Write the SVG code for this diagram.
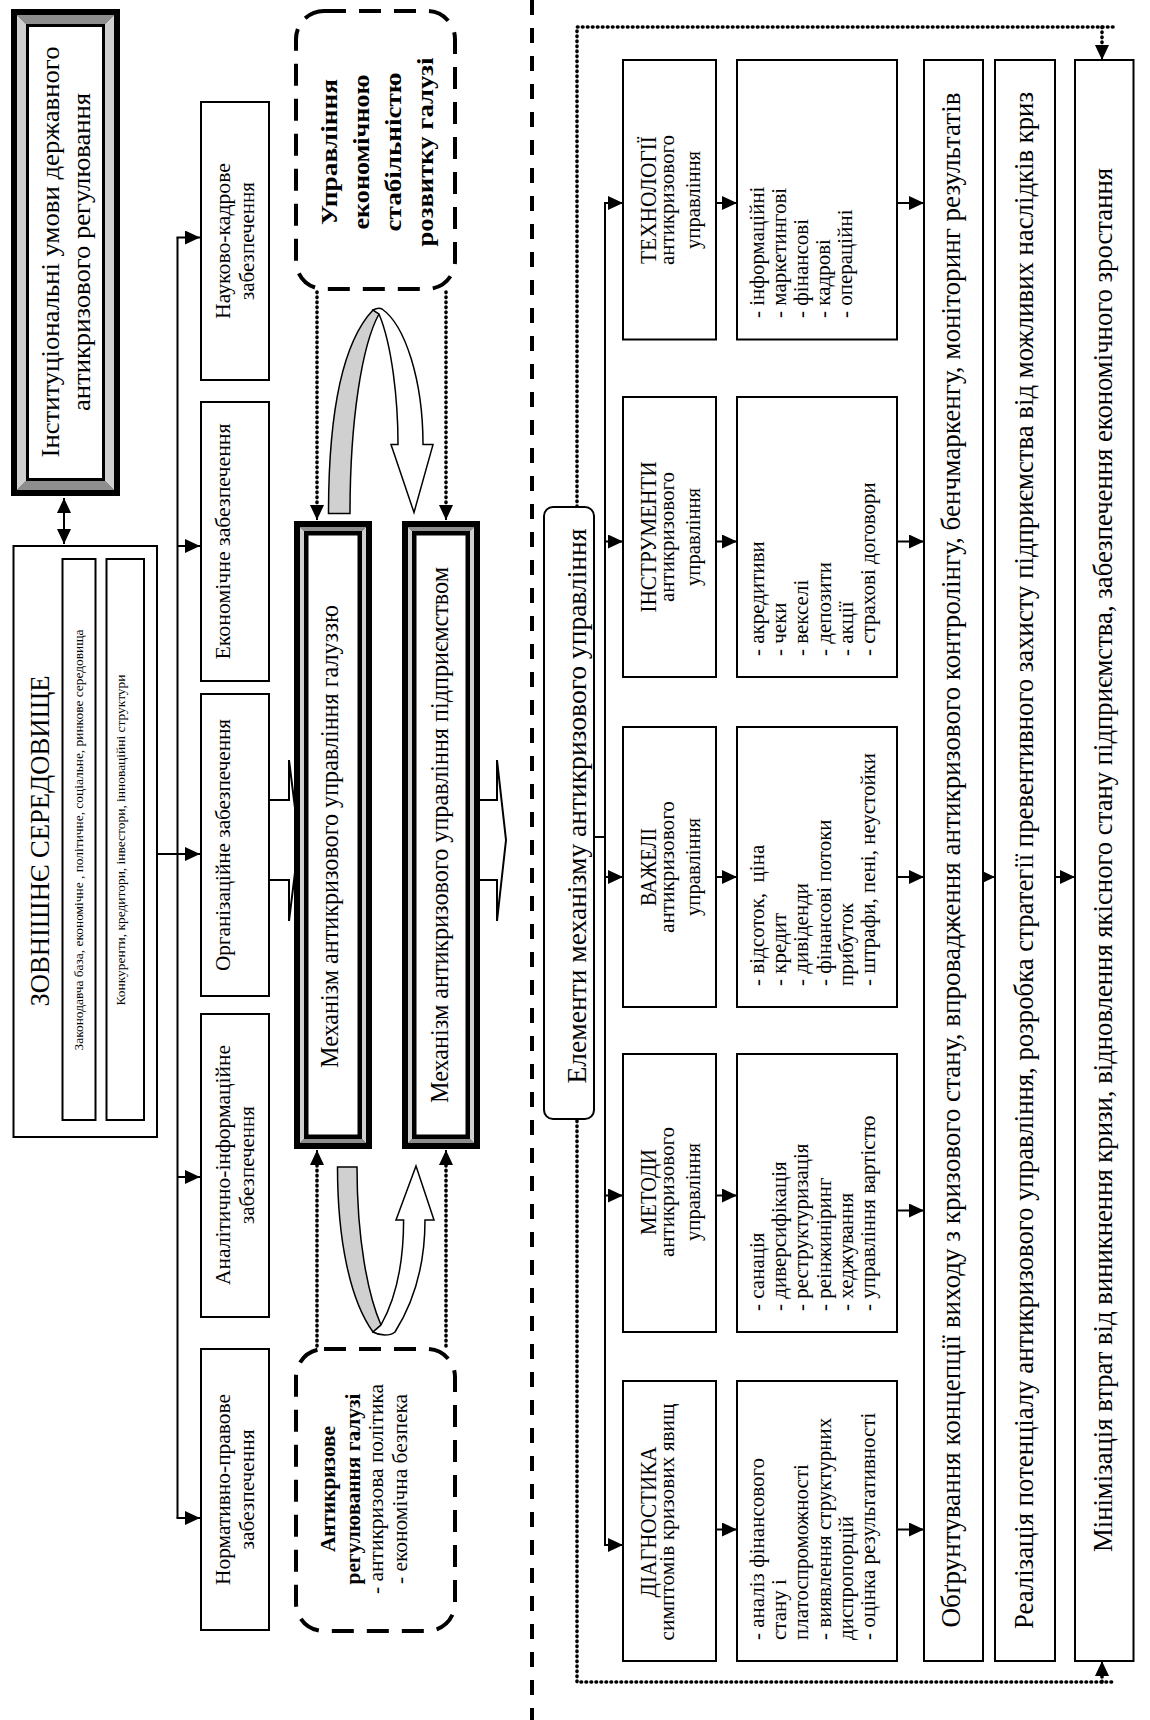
<svg xmlns="http://www.w3.org/2000/svg" width="1150" height="1720" viewBox="0 0 1150 1720">
<defs>
<style>
.t{font-family:"Liberation Serif","Times New Roman",serif;fill:#000}
.b{font-weight:bold}
.box{fill:#fff;stroke:#000;stroke-width:2}
.ln{stroke:#000;stroke-width:2;fill:none}
.dot{stroke:#000;stroke-width:3.6;stroke-dasharray:0.6 4.4;stroke-linecap:round;fill:none}
.dash{fill:#fff;stroke:#000;stroke-width:4;stroke-dasharray:22 13}
.bt{fill:#8e8e8e}
.bs{fill:#cfcfcf}
.gray{fill:#d0d0d0;stroke:#000;stroke-width:1.5}
.wh{fill:#fff;stroke:#000;stroke-width:1.5}
.li{font-size:21px}
</style>
<marker id="ah" markerUnits="userSpaceOnUse" markerWidth="15" markerHeight="14" refX="15" refY="7" orient="auto-start-reverse"><path d="M0,0 L15,7 L0,14 Z" fill="#000"/></marker>
<g id="mf">
<rect x="0" y="0" width="78" height="628" fill="#000"/>
<polygon class="bt" points="6,6 72,6 68,10 10,10"/>
<polygon class="bt" points="6,622 72,622 68,618 10,618"/>
<polygon class="bs" points="6,6 10,10 10,618 6,622"/>
<polygon class="bs" points="72,6 68,10 68,618 72,622"/>
<rect x="10" y="10" width="58" height="608" fill="#000"/>
<rect x="14.5" y="14.5" width="49" height="599" fill="#fff"/>
</g>
</defs>
<rect width="1150" height="1720" fill="#fff"/>

<g id="connectors">
<line class="ln" x1="64" y1="498" x2="64" y2="544" marker-start="url(#ah)" marker-end="url(#ah)"/>
<line class="ln" x1="157" y1="854" x2="200" y2="854" marker-end="url(#ah)"/>
<line class="ln" x1="177.5" y1="237.5" x2="177.5" y2="1518"/>
<line class="ln" x1="176.5" y1="237.5" x2="200" y2="237.5" marker-end="url(#ah)"/>
<line class="ln" x1="177.5" y1="546" x2="200" y2="546" marker-end="url(#ah)"/>
<line class="ln" x1="177.5" y1="1177" x2="200" y2="1177" marker-end="url(#ah)"/>
<line class="ln" x1="176.5" y1="1518" x2="200" y2="1518" marker-end="url(#ah)"/>
<polygon points="268,800 289,800 289,760 299,840 289,921 289,880 268,880" fill="#fff" stroke="#000" stroke-width="2"/>
<polygon points="478,800 497,800 497,760 506,840 497,921 497,880 478,880" fill="#fff" stroke="#000" stroke-width="2"/>
<path class="gray" d="M328.5,513.5 C328.5,420 340,345 373,310 L379,314 C362,345 350,420 350,513.5 Z"/>
<path class="wh" d="M373,310 C377,308 380,308 382,309 C405,325 423,380 423,444.6 L433,444.6 L414,512.5 L391,444.6 L398,444.6 C398,400 392,345 379,314 Z"/>
<path class="gray" d="M337.5,1167 C337.5,1240 350,1300 373,1332 L381,1325 C368,1295 357,1240 357,1167 Z"/>
<path class="wh" d="M373,1332 C380,1336 390,1336 395,1332 C412,1305 425,1270 425,1220 L434,1220 L416,1166 L396,1220 L403.6,1220 C403.6,1265 395,1300 381,1325 Z"/>
<line class="dot" x1="317" y1="292" x2="317" y2="508"/>
<line class="ln" x1="317" y1="506" x2="317" y2="520" marker-end="url(#ah)"/>
<line class="dot" x1="446" y1="292" x2="446" y2="508"/>
<line class="ln" x1="446" y1="506" x2="446" y2="520" marker-end="url(#ah)"/>
<line class="dot" x1="317" y1="1346" x2="317" y2="1162"/>
<line class="ln" x1="317" y1="1164" x2="317" y2="1150" marker-end="url(#ah)"/>
<line class="dot" x1="446" y1="1346" x2="446" y2="1162"/>
<line class="ln" x1="446" y1="1164" x2="446" y2="1150" marker-end="url(#ah)"/>
<line x1="532" y1="0" x2="532" y2="1720" stroke="#000" stroke-width="4" stroke-dasharray="15 13"/>
<path class="dot" d="M1113,27 H577 V1682 H1113"/>
<line class="dot" x1="1102" y1="27" x2="1102" y2="46"/>
<line class="ln" x1="1102" y1="45" x2="1102" y2="60" marker-end="url(#ah)"/>
<line class="dot" x1="1102" y1="1682" x2="1102" y2="1675"/>
<line class="ln" x1="1102" y1="1676" x2="1102" y2="1661" marker-end="url(#ah)"/>
<line class="ln" x1="594" y1="837" x2="605" y2="837"/>
<line class="ln" x1="605" y1="203" x2="605" y2="1545"/>
<line class="ln" x1="604" y1="203" x2="623" y2="203" marker-end="url(#ah)"/>
<line class="ln" x1="605" y1="541.5" x2="623" y2="541.5" marker-end="url(#ah)"/>
<line class="ln" x1="605" y1="877" x2="623" y2="877" marker-end="url(#ah)"/>
<line class="ln" x1="605" y1="1195.5" x2="623" y2="1195.5" marker-end="url(#ah)"/>
<line class="ln" x1="604" y1="1545" x2="623" y2="1545" marker-end="url(#ah)"/>
<line class="ln" x1="716" y1="203" x2="737" y2="203" marker-end="url(#ah)"/>
<line class="ln" x1="716" y1="541.5" x2="737" y2="541.5" marker-end="url(#ah)"/>
<line class="ln" x1="716" y1="877" x2="737" y2="877" marker-end="url(#ah)"/>
<line class="ln" x1="716" y1="1195.5" x2="737" y2="1195.5" marker-end="url(#ah)"/>
<line class="ln" x1="716" y1="1529.5" x2="737" y2="1529.5" marker-end="url(#ah)"/>
<line class="ln" x1="897" y1="203" x2="924" y2="203" marker-end="url(#ah)"/>
<line class="ln" x1="897" y1="541.5" x2="924" y2="541.5" marker-end="url(#ah)"/>
<line class="ln" x1="897" y1="877" x2="924" y2="877" marker-end="url(#ah)"/>
<line class="ln" x1="897" y1="1210.5" x2="924" y2="1210.5" marker-end="url(#ah)"/>
<line class="ln" x1="897" y1="1529.5" x2="924" y2="1529.5" marker-end="url(#ah)"/>
<line class="ln" x1="980" y1="877" x2="995" y2="877" marker-end="url(#ah)"/>
<line class="ln" x1="1055" y1="877" x2="1075" y2="877" marker-end="url(#ah)"/>
</g>

<g id="institutional">
<rect x="11" y="9" width="109" height="487" fill="#000"/>
<polygon class="bt" points="17,15 114,15 105,24 26,24"/>
<polygon class="bt" points="17,490 114,490 105,481 26,481"/>
<polygon class="bs" points="17,15 26,24 26,481 17,490"/>
<polygon class="bs" points="114,15 105,24 105,481 114,490"/>
<rect x="27.5" y="25.5" width="76" height="454" fill="#fff" stroke="#000" stroke-width="3"/>
<text class="t" font-size="26" text-anchor="middle" transform="translate(59,252) rotate(-90)" textLength="411" lengthAdjust="spacingAndGlyphs">Інституціональні умови державного</text>
<text class="t" font-size="26" text-anchor="middle" transform="translate(90,252) rotate(-90)" textLength="318" lengthAdjust="spacingAndGlyphs">антикризового регулювання</text>
</g>

<g id="external">
<rect class="box" x="13.5" y="546" width="143.5" height="591"/>
<text class="t" font-size="27" text-anchor="middle" transform="translate(49,841) rotate(-90)" textLength="331" lengthAdjust="spacingAndGlyphs">ЗОВНІШНЄ СЕРЕДОВИЩЕ</text>
<rect class="box" x="62.5" y="559" width="33" height="561"/>
<text class="t" font-size="12.5" text-anchor="middle" transform="translate(82.5,840) rotate(-90)" textLength="421" lengthAdjust="spacingAndGlyphs">Законодавча база, економічне , політичне, соціальне, ринкове середовища</text>
<rect class="box" x="106.5" y="559" width="37.5" height="561"/>
<text class="t" font-size="12.5" text-anchor="middle" transform="translate(125,840) rotate(-90)" textLength="331" lengthAdjust="spacingAndGlyphs">Конкуренти, кредитори, інвестори, інноваційні структури</text>
</g>

<g id="sup-science">
<rect class="box" x="201" y="102" width="68" height="278"/>
<text class="t" font-size="20" text-anchor="middle" transform="translate(230,241) rotate(-90)" textLength="156" lengthAdjust="spacingAndGlyphs">Науково-кадрове</text>
<text class="t" font-size="20" text-anchor="middle" transform="translate(254,241) rotate(-90)" textLength="118" lengthAdjust="spacingAndGlyphs">забезпечення</text>
</g>
<g id="sup-econ">
<rect class="box" x="201" y="402" width="68" height="279"/>
<text class="t" font-size="20" text-anchor="middle" transform="translate(230,541.5) rotate(-90)" textLength="236" lengthAdjust="spacingAndGlyphs">Економічне  забезпечення</text>
</g>
<g id="sup-org">
<rect class="box" x="201" y="694" width="68" height="302"/>
<text class="t" font-size="20" text-anchor="middle" transform="translate(230,845) rotate(-90)" textLength="252" lengthAdjust="spacingAndGlyphs">Організаційне забезпечення</text>
</g>
<g id="sup-anal">
<rect class="box" x="201" y="1014" width="68" height="303"/>
<text class="t" font-size="20" text-anchor="middle" transform="translate(230,1165) rotate(-90)" textLength="240" lengthAdjust="spacingAndGlyphs">Аналітично-інформаційне</text>
<text class="t" font-size="20" text-anchor="middle" transform="translate(254,1165) rotate(-90)" textLength="118" lengthAdjust="spacingAndGlyphs">забезпечення</text>
</g>
<g id="sup-norm">
<rect class="box" x="201" y="1349" width="68" height="281"/>
<text class="t" font-size="20" text-anchor="middle" transform="translate(230,1489.5) rotate(-90)" textLength="191" lengthAdjust="spacingAndGlyphs">Нормативно-правове</text>
<text class="t" font-size="20" text-anchor="middle" transform="translate(254,1489.5) rotate(-90)" textLength="120" lengthAdjust="spacingAndGlyphs">забезпечення</text>
</g>

<g id="mech-industry">
<use href="#mf" x="294" y="521"/>
<text class="t" font-size="25" text-anchor="middle" transform="translate(338,836.5) rotate(-90)" textLength="463" lengthAdjust="spacingAndGlyphs">Механізм антикризового управління галуззю</text>
</g>
<g id="mech-enterprise">
<use href="#mf" x="402" y="521"/>
<text class="t" font-size="25" text-anchor="middle" transform="translate(448,835) rotate(-90)" textLength="536" lengthAdjust="spacingAndGlyphs">Механізм антикризового управління підприємством</text>
</g>

<g id="stability">
<rect class="dash" x="296" y="11" width="159" height="278" rx="28"/>
<text class="t b" font-size="24" text-anchor="middle" transform="translate(337,152) rotate(-90)" textLength="146" lengthAdjust="spacingAndGlyphs">Управління</text>
<text class="t b" font-size="24" text-anchor="middle" transform="translate(369,152) rotate(-90)" textLength="155" lengthAdjust="spacingAndGlyphs">економічною</text>
<text class="t b" font-size="24" text-anchor="middle" transform="translate(401,152) rotate(-90)" textLength="159" lengthAdjust="spacingAndGlyphs">стабільністю</text>
<text class="t b" font-size="24" text-anchor="middle" transform="translate(433,152) rotate(-90)" textLength="189" lengthAdjust="spacingAndGlyphs">розвитку галузі</text>
</g>
<g id="regulation">
<rect class="dash" x="296" y="1349" width="159" height="282" rx="28"/>
<text class="t b" font-size="21" text-anchor="middle" transform="translate(335,1489) rotate(-90)" textLength="126" lengthAdjust="spacingAndGlyphs">Антикризове</text>
<text class="t b" font-size="21" text-anchor="middle" transform="translate(360,1489) rotate(-90)" textLength="191" lengthAdjust="spacingAndGlyphs">регулювання галузі</text>
<text class="t" font-size="21" text-anchor="middle" transform="translate(383,1489) rotate(-90)" textLength="210" lengthAdjust="spacingAndGlyphs">- антикризова політика</text>
<text class="t" font-size="21" text-anchor="middle" transform="translate(406.5,1489) rotate(-90)" textLength="190" lengthAdjust="spacingAndGlyphs">- економічна безпека</text>
</g>

<g id="elements">
<rect class="box" x="544" y="507" width="50" height="612" rx="9"/>
<text class="t" font-size="27" text-anchor="middle" transform="translate(586,806) rotate(-90)" textLength="555" lengthAdjust="spacingAndGlyphs">Елементи механізму антикризового управління</text>
</g>

<g id="tech">
<rect class="box" x="623" y="60" width="93" height="279.5"/>
<text class="t" font-size="23" text-anchor="middle" transform="translate(656,200) rotate(-90)" textLength="128" lengthAdjust="spacingAndGlyphs">ТЕХНОЛОГІЇ</text>
<text class="t" font-size="20" text-anchor="middle" transform="translate(674,200) rotate(-90)" textLength="130" lengthAdjust="spacingAndGlyphs">антикризового</text>
<text class="t" font-size="20" text-anchor="middle" transform="translate(700,200) rotate(-90)" textLength="98" lengthAdjust="spacingAndGlyphs">управління</text>
</g>
<g id="tech-list">
<rect class="box" x="737" y="60" width="160" height="279.5"/>
<text class="t li" transform="translate(764,318) rotate(-90)"><tspan x="0" y="0">- інформаційні</tspan><tspan x="0" y="22">- маркетингові</tspan><tspan x="0" y="44">- фінансові</tspan><tspan x="0" y="66">- кадрові</tspan><tspan x="0" y="88">- операційні</tspan></text>
</g>

<g id="instr">
<rect class="box" x="623" y="397" width="93" height="280"/>
<text class="t" font-size="23" text-anchor="middle" transform="translate(656,537) rotate(-90)" textLength="151" lengthAdjust="spacingAndGlyphs">ІНСТРУМЕНТИ</text>
<text class="t" font-size="20" text-anchor="middle" transform="translate(674,537) rotate(-90)" textLength="130" lengthAdjust="spacingAndGlyphs">антикризового</text>
<text class="t" font-size="20" text-anchor="middle" transform="translate(700,537) rotate(-90)" textLength="98" lengthAdjust="spacingAndGlyphs">управління</text>
</g>
<g id="instr-list">
<rect class="box" x="737" y="397" width="160" height="280"/>
<text class="t li" transform="translate(764,656) rotate(-90)"><tspan x="0" y="0">- акредитиви</tspan><tspan x="0" y="22.2">- чеки</tspan><tspan x="0" y="44.4">- векселі</tspan><tspan x="0" y="66.6">- депозити</tspan><tspan x="0" y="88.8">- акції</tspan><tspan x="0" y="111">- страхові договори</tspan></text>
</g>

<g id="levers">
<rect class="box" x="623" y="727" width="93" height="280"/>
<text class="t" font-size="23" text-anchor="middle" transform="translate(656,867) rotate(-90)" textLength="78" lengthAdjust="spacingAndGlyphs">ВАЖЕЛІ</text>
<text class="t" font-size="20" text-anchor="middle" transform="translate(674,867) rotate(-90)" textLength="132" lengthAdjust="spacingAndGlyphs">антикризового</text>
<text class="t" font-size="20" text-anchor="middle" transform="translate(700,867) rotate(-90)" textLength="98" lengthAdjust="spacingAndGlyphs">управління</text>
</g>
<g id="levers-list">
<rect class="box" x="737" y="727" width="160" height="280"/>
<text class="t li" xml:space="preserve" transform="translate(764,986) rotate(-90)"><tspan x="0" y="0">- відсоток,  ціна</tspan><tspan x="0" y="22.2">- кредит</tspan><tspan x="0" y="44.4">- дивіденди</tspan><tspan x="0" y="66.6">- фінансові потоки</tspan><tspan x="0" y="88.8">прибуток</tspan><tspan x="0" y="111">- штрафи, пені, неустойки</tspan></text>
</g>

<g id="methods">
<rect class="box" x="623" y="1054" width="93" height="278"/>
<text class="t" font-size="23" text-anchor="middle" transform="translate(656,1192) rotate(-90)" textLength="86" lengthAdjust="spacingAndGlyphs">МЕТОДИ</text>
<text class="t" font-size="20" text-anchor="middle" transform="translate(674,1192) rotate(-90)" textLength="130" lengthAdjust="spacingAndGlyphs">антикризового</text>
<text class="t" font-size="20" text-anchor="middle" transform="translate(700,1192) rotate(-90)" textLength="98" lengthAdjust="spacingAndGlyphs">управління</text>
</g>
<g id="methods-list">
<rect class="box" x="737" y="1054" width="160" height="278"/>
<text class="t li" transform="translate(764,1311) rotate(-90)"><tspan x="0" y="0">- санація</tspan><tspan x="0" y="22.2">- диверсифікація</tspan><tspan x="0" y="44.4">- реструктуризація</tspan><tspan x="0" y="66.6">- реінжиніринг</tspan><tspan x="0" y="88.8">- хеджування</tspan><tspan x="0" y="111">- управління вартістю</tspan></text>
</g>

<g id="diag">
<rect class="box" x="623" y="1381" width="93" height="280"/>
<text class="t" font-size="23" text-anchor="middle" transform="translate(656,1522) rotate(-90)" textLength="151" lengthAdjust="spacingAndGlyphs">ДІАГНОСТИКА</text>
<text class="t" font-size="20" text-anchor="middle" transform="translate(674,1522) rotate(-90)" textLength="237" lengthAdjust="spacingAndGlyphs">симптомів кризових явищ</text>
</g>
<g id="diag-list">
<rect class="box" x="737" y="1381" width="160" height="280"/>
<text class="t li" transform="translate(764,1640) rotate(-90)"><tspan x="0" y="0">- аналіз фінансового</tspan><tspan x="0" y="22.2">стану і</tspan><tspan x="0" y="44.4">платоспроможності</tspan><tspan x="0" y="66.6">-  виявлення структурних</tspan><tspan x="0" y="88.8">диспропорцій</tspan><tspan x="0" y="111">- оцінка результативності</tspan></text>
</g>

<g id="concept">
<rect class="box" x="924" y="60" width="59" height="1601"/>
<text class="t" font-size="27" text-anchor="middle" transform="translate(960,860) rotate(-90)" textLength="1535" lengthAdjust="spacingAndGlyphs">Обґрунтування концепції виходу з кризового стану, впровадження антикризового контролінгу, бенчмаркенгу, моніторинг результатів</text>
</g>
<g id="potential">
<rect class="box" x="995" y="60" width="60" height="1601"/>
<text class="t" font-size="27" text-anchor="middle" transform="translate(1033,860.5) rotate(-90)" textLength="1537" lengthAdjust="spacingAndGlyphs">Реалізація потенціалу антикризового управління, розробка стратегії превентивного захисту підприємства від можливих наслідків криз</text>
</g>
<g id="minimize">
<rect class="box" x="1075" y="60" width="58.5" height="1601"/>
<text class="t" font-size="27" text-anchor="middle" transform="translate(1112,860) rotate(-90)" textLength="1384" lengthAdjust="spacingAndGlyphs">Мінімізація втрат від виникнення кризи, відновлення якісного стану підприємства, забезпечення економічного зростання</text>
</g>
</svg>
